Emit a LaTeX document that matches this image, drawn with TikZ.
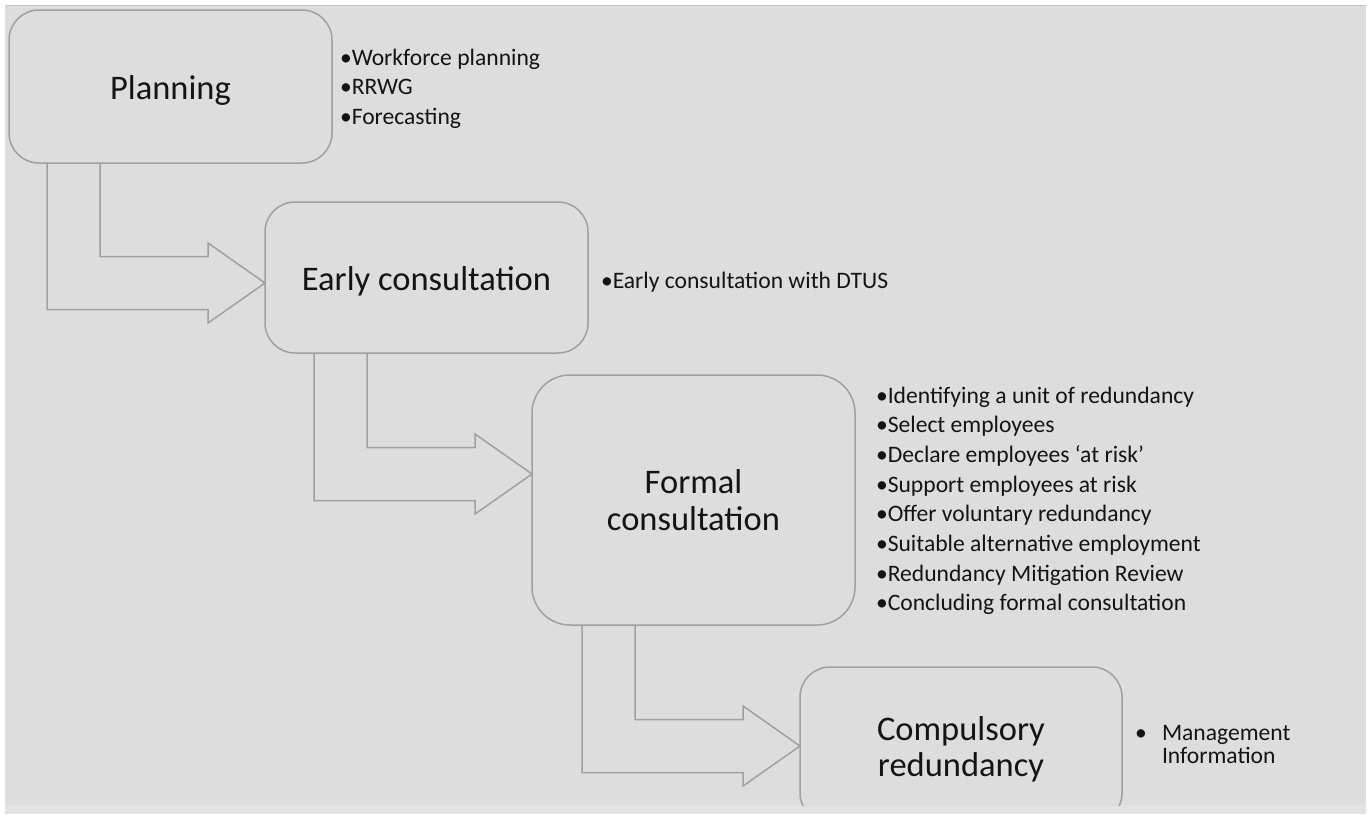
\documentclass[tikz,border=0pt]{standalone}
\usepackage{fontspec}
\setmainfont{Carlito}
\usetikzlibrary{calc}
\pgfdeclarelayer{back}
\pgfdeclarelayer{mid}
\pgfsetlayers{back,mid,main}
\definecolor{bg}{RGB}{221,221,221}
\definecolor{bgstrip}{RGB}{227,227,227}
\definecolor{topline}{RGB}{196,196,196}
\definecolor{edge}{RGB}{160,160,160}
\definecolor{ink}{RGB}{20,20,20}
\newcommand\bentarrow[4]{%
  \draw[bent] ($(#1.south west)+(#3,0)$) |- ($(#2.west)+(-57,#4+26.5)$)
    -- ($(#2.west)+(-57,#4+40)$) -- ($(#2.west)+(0,#4)$)
    -- ($(#2.west)+(-57,#4-40)$) -- ($(#2.west)+(-57,#4-26.5)$)
    -| ($(#1.south west)+(#3+53,0)$);}
\begin{document}
\begin{tikzpicture}[x=1pt,y=-1pt,
  stage/.style={draw=edge, line width=1.5pt, fill=bg, rounded corners=30pt,
    inner sep=0pt, outer sep=0pt, text=ink, font=\fontsize{34.5}{37}\selectfont},
  bent/.style={draw=edge, line width=1.5pt, fill=bg, line join=miter},
  list/.style={anchor=base west, inner sep=0pt, outer sep=0pt, text=ink}]
\begin{pgfonlayer}{back}
\fill[white] (0,0) rectangle (1370,814);
\fill[bg] (5,6) rectangle (1366,814);
\draw[topline, line width=1.5pt] (5,5.5) -- (1366,5.5);
\end{pgfonlayer}
\useasboundingbox (0,0) rectangle (1370,814);
\clip (0,0) rectangle (1370,805);

\node[stage, minimum width=323pt, minimum height=153pt, text height=32pt, text depth=7pt]
  (plan) at (170.5,86.5) {Planning};
\node[stage, minimum width=323pt, minimum height=151pt, text height=32pt, text depth=7pt]
  (early) at (426.5,277.5) {Early consultation};
\node[stage, rounded corners=38pt, minimum width=323pt, minimum height=250pt]
  (formal) at (693.5,500) {\begin{tabular}{@{}c@{}}\rule{0pt}{35pt}Formal\\consultation\end{tabular}};
\node[stage, minimum width=322pt, minimum height=156pt, font=\fontsize{34.5}{36}\selectfont]
  (comp) at (961,745) {\begin{tabular}{@{}c@{}}\rule{0pt}{37pt}Compulsory\\redundancy\end{tabular}};

\begin{pgfonlayer}{mid}
\bentarrow{plan}{early}{38}{5.5}
\bentarrow{early}{formal}{49}{-26}
\bentarrow{formal}{comp}{50}{1}
\end{pgfonlayer}

\node[list, font=\fontsize{23.6}{29.6}\selectfont] (planlist) at (340,65)
  {\begin{tabular}[t]{@{}l@{}}•Workforce planning\\•RRWG\\•Forecasting\end{tabular}};
\node[list, font=\fontsize{23.6}{29.7}\selectfont] (earlylist) at (601,288)
  {\begin{tabular}[t]{@{}l@{}}•Early consultation with DTUS\end{tabular}};
\node[list, font=\fontsize{23.6}{29.67}\selectfont] (formallist) at (876,403)
  {\begin{tabular}[t]{@{}l@{}}•Identifying a unit of redundancy\\•Select employees\\•Declare employees ‘at risk’\\•Support employees at risk\\•Offer voluntary redundancy\\•Suitable alternative employment\\•Redundancy Mitigation Review\\•Concluding formal consultation\end{tabular}};
\node[list, font=\fontsize{23.6}{23.5}\selectfont] (complist) at (1135,740)
  {\begin{tabular}[t]{@{}l@{}}\makebox[27pt][l]{•}Management\\\makebox[27pt][l]{}Information\end{tabular}};

\begin{pgfonlayer}{mid}
\fill[bgstrip] (5,805) rectangle (1366,814);
\end{pgfonlayer}
\end{tikzpicture}
\end{document}
